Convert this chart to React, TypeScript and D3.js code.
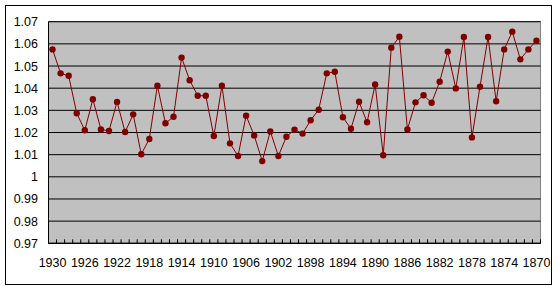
import React from "react";
import * as d3 from "d3";

const years: number[] = d3.range(1930, 1869, -1);
const values: number[] = [
  1.0575, 1.0467, 1.0456, 1.0287, 1.021, 1.035, 1.0214, 1.0207, 1.0338, 1.0202,
  1.0282, 1.0102, 1.0171, 1.0411, 1.0242, 1.0271, 1.0538, 1.0436, 1.0366, 1.0366,
  1.0184, 1.0411, 1.0151, 1.0094, 1.0276, 1.0187, 1.0071, 1.0205, 1.0094, 1.0181,
  1.0213, 1.0195, 1.0255, 1.0303, 1.0467, 1.0474, 1.0269, 1.0217, 1.0339, 1.0246,
  1.0417, 1.0097, 1.0583, 1.0632, 1.0214, 1.0336, 1.0368, 1.0334, 1.0429, 1.0565,
  1.0399, 1.0631, 1.0178, 1.0407, 1.0631, 1.0341, 1.0575, 1.0655, 1.053, 1.0575,
  1.0614,
];
const yTicks: number[] = [0.97, 0.98, 0.99, 1.0, 1.01, 1.02, 1.03, 1.04, 1.05, 1.06, 1.07];
const xLabelYears: number[] = years.filter((y) => (1930 - y) % 4 === 0);

export default function App() {
  const W = 557, H = 290;
  const L = 48.5, R = 540.5, T = 21.7, B = 243.3;
  const x = d3.scaleBand<number>().domain(years).range([L, R]).paddingInner(0).paddingOuter(0);
  const y = d3.scaleLinear().domain([0.97, 1.07]).range([B, T]);
  const cx = (yr: number) => (x(yr) as number) + x.bandwidth() / 2;
  const line = d3.line<number>().x((_, i) => cx(years[i])).y((v) => y(v));
  const font = "'Liberation Sans', Arial, sans-serif";
  const fmt = (v: number) => {
    const s = d3.format(".2f")(v);
    return s === "1.00" ? "1" : s;
  };
  const boundaries = years.map((yr) => x(yr) as number).concat([R]);
  return (
    <svg width={W} height={H} style={{ position: "absolute", left: 0, top: 0 }}>
      <rect x={0} y={0} width={W} height={H} fill="#fff" />
      <rect x={5.5} y={5.5} width={546} height={279} fill="#fff" stroke="#000" strokeWidth={1} />
      <rect x={L} y={T} width={R - L} height={B - T} fill="#c0c0c0" stroke="#808080" strokeWidth={1} />
      {yTicks.map((t) => (
        <line key={t} x1={L} x2={R} y1={y(t)} y2={y(t)} stroke="#000" strokeWidth={1} />
      ))}
      <line x1={L} x2={L} y1={T} y2={B} stroke="#000" strokeWidth={1} />
      <line x1={L} x2={R} y1={B} y2={B} stroke="#000" strokeWidth={1} />
      {boundaries.map((bx, i) => (
        <line key={i} x1={bx} x2={bx} y1={B} y2={B - 4} stroke="#000" strokeWidth={1} />
      ))}
      {yTicks.map((t) => (
        <text key={t} x={38} y={y(t)} dy="0.36em" textAnchor="end" fontFamily={font} fontSize={12.5} fill="#000">
          {fmt(t)}
        </text>
      ))}
      {xLabelYears.map((yr) => (
        <text key={yr} x={cx(yr)} y={262} dy="0.36em" textAnchor="middle" fontFamily={font} fontSize={12.5} fill="#000">
          {yr}
        </text>
      ))}
      <path d={line(values) || ""} fill="none" stroke="#800000" strokeWidth={1} />
      {values.map((v, i) => (
        <circle key={i} cx={cx(years[i])} cy={y(v)} r={3.2} fill="#800000" />
      ))}
    </svg>
  );
}
